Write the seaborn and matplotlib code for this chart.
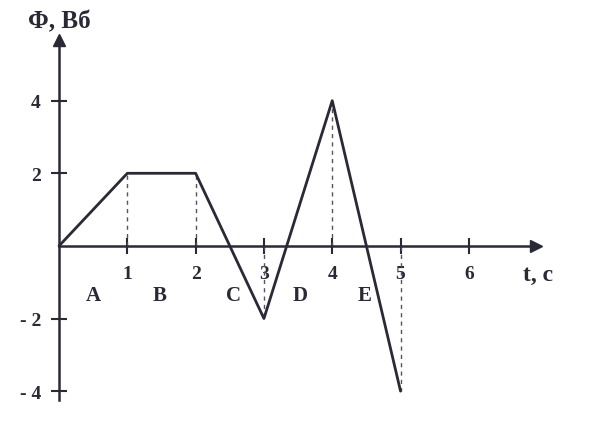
import numpy as np
import pandas as pd
import matplotlib
matplotlib.use("Agg")
import matplotlib.pyplot as plt
import seaborn as sns

t_values = [0, 1, 2, 3, 4, 5]
flux_values = [0, 2, 2, -2, 4, -4]
x_ticks = [1, 2, 3, 4, 5, 6]
y_ticks = [-4, -2, 2, 4]
y_tick_labels = ["- 4", "- 2", "2", "4"]
segment_labels = ["A", "B", "C", "D", "E"]
segment_x = [0.5, 1.48, 2.55, 3.53, 4.48]

sns.set_theme(style="white")
plt.rcParams['font.family'] = ['Liberation Serif', 'DejaVu Serif']

ink = "#2a2a36"
fig = plt.figure(figsize=(6, 4.35), dpi=100)
ax = fig.add_axes([0, 0, 1, 1])
ax.set_xlim(-0.864, 7.92)
ax.set_ylim(-5.18, 6.80)

df = pd.DataFrame({"t": t_values, "flux": flux_values})
sns.lineplot(data=df, x="t", y="flux", ax=ax, color=ink, linewidth=2.0, zorder=3)

# dashed drops
for tx, fv in zip(t_values[1:], flux_values[1:]):
    ax.plot([tx, tx], [0, fv], linestyle=(0, (3, 3)), color="#555560", linewidth=1.0, zorder=2)

# axes as spines through zero
for s in ["top", "right"]:
    ax.spines[s].set_visible(False)
ax.spines["left"].set_position(("data", 0))
ax.spines["bottom"].set_position(("data", 0))
ax.spines["left"].set_bounds(-4.25, 5.6)
ax.spines["bottom"].set_bounds(0, 6.95)
for s in ["left", "bottom"]:
    ax.spines[s].set_color(ink)
    ax.spines[s].set_linewidth(1.8)
# arrow heads
ax.plot([6.98], [0], marker=">", color=ink, markersize=8, clip_on=False, zorder=4)
ax.plot([0], [5.66], marker="^", color=ink, markersize=8, clip_on=False, zorder=4)

ax.set_xticks(x_ticks)
ax.set_xticklabels([str(v) for v in x_ticks])
ax.set_yticks(y_ticks)
ax.set_yticklabels(y_tick_labels)
ax.tick_params(axis="both", direction="inout", length=12, width=1.5, color=ink,
               labelsize=14, labelcolor=ink)
ax.tick_params(axis="x", pad=8, bottom=True)
ax.tick_params(axis="y", pad=7, left=True)
for lab in ax.get_xticklabels() + ax.get_yticklabels():
    lab.set_fontweight("bold")
ax.set_xlabel("")
ax.set_ylabel("")

# segment letters
for lx, lt in zip(segment_x, segment_labels):
    ax.text(lx, -1.35, lt, ha="center", va="center", fontsize=15, fontweight="bold", color=ink)

# axis titles
ax.text(0.0, 6.2, "Φ, Вб", ha="center", va="center", fontsize=18, fontweight="bold", color=ink)
ax.text(7.01, -0.78, "t, c", ha="center", va="center", fontsize=17, fontweight="bold", color=ink)

fig.savefig("out.png", dpi=100, facecolor="white")
